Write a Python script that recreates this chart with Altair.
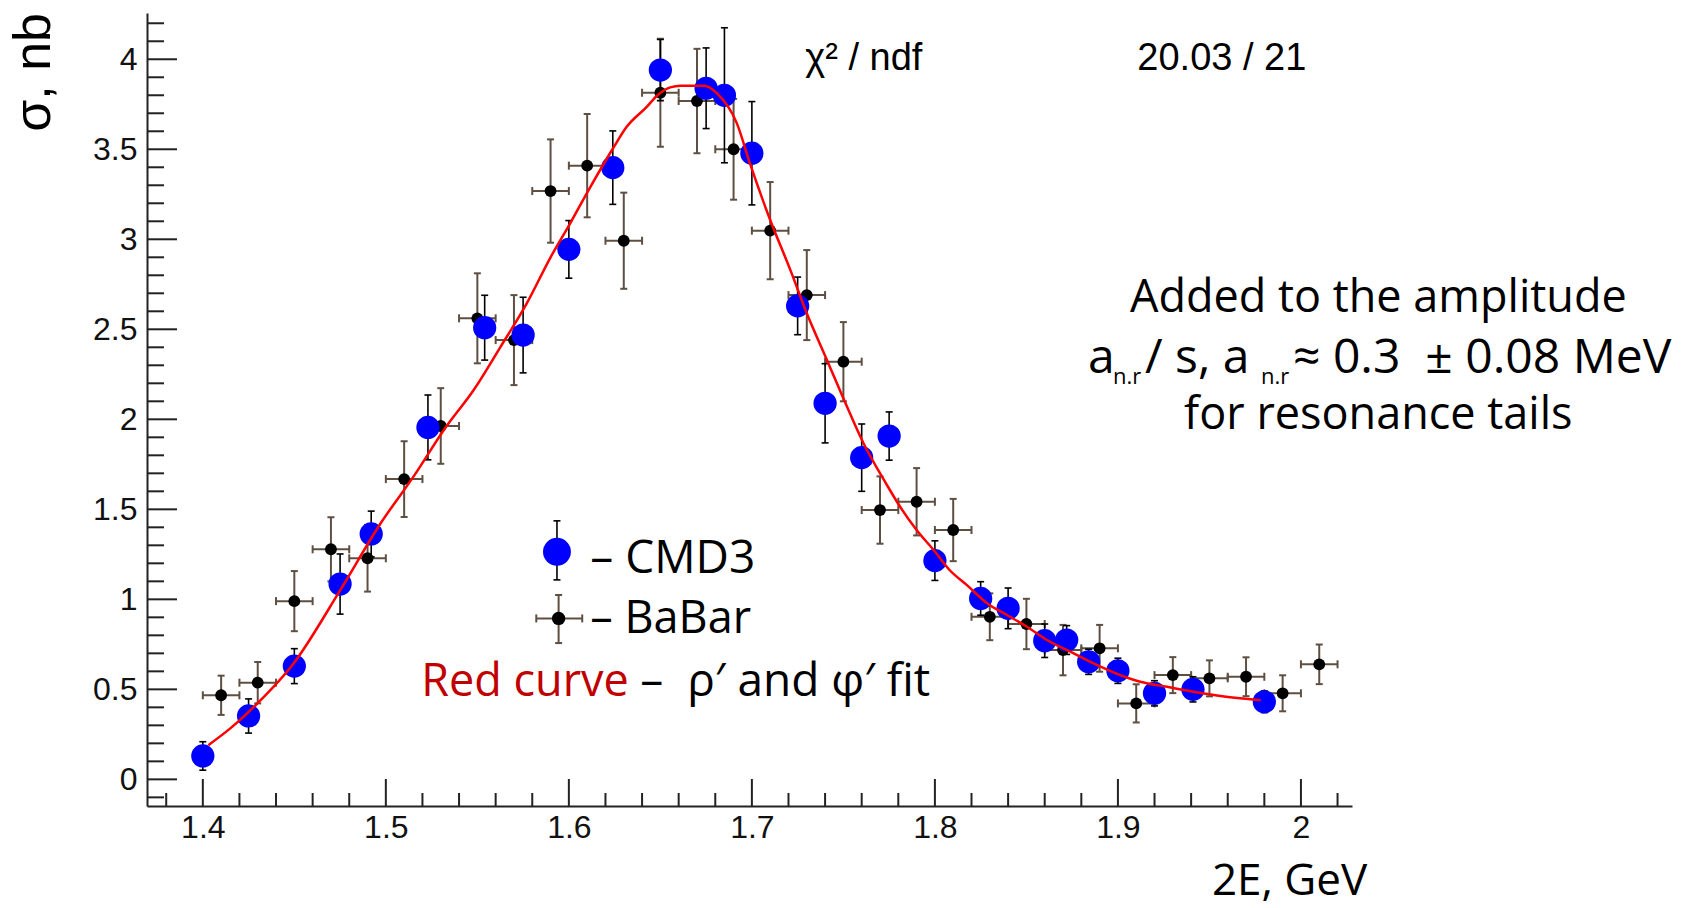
import altair as alt
import pandas as pd

# ---------------- data ----------------
# CMD3 (blue) points: energy (GeV), cross section (nb), error (nb)
cmd3_x = [1.400, 1.425, 1.450, 1.475, 1.492, 1.523, 1.554, 1.575, 1.600, 1.624,
          1.650, 1.675, 1.685, 1.700, 1.725, 1.740, 1.760, 1.775, 1.800, 1.825,
          1.840, 1.860, 1.872, 1.884, 1.900, 1.920, 1.941, 1.980]
cmd3_y = [0.13, 0.352, 0.629, 1.085, 1.363, 1.955, 2.509, 2.468, 2.944, 3.398,
          3.94, 3.839, 3.80, 3.478, 2.63, 2.089, 1.787, 1.907, 1.215, 1.005,
          0.95, 0.77, 0.774, 0.653, 0.603, 0.478, 0.50, 0.431]
cmd3_err = [0.079, 0.095, 0.097, 0.167, 0.127, 0.18, 0.18, 0.21, 0.16, 0.204,
            0.17, 0.224, 0.375, 0.287, 0.16, 0.22, 0.187, 0.134, 0.11, 0.093,
            0.113, 0.093, 0.08, 0.07, 0.07, 0.07, 0.07, 0.06]

# BaBar (black) points
babar_x = [1.41, 1.43, 1.45, 1.47, 1.49, 1.51, 1.53, 1.55, 1.57, 1.59,
           1.61, 1.63, 1.65, 1.67, 1.69, 1.71, 1.73, 1.75, 1.77, 1.79,
           1.81, 1.83, 1.85, 1.87, 1.89, 1.91, 1.93, 1.95, 1.97, 1.99, 2.01]
babar_y = [0.467, 0.537, 0.99, 1.278, 1.228, 1.668, 1.963, 2.561, 2.44, 3.268,
           3.409, 2.992, 3.814, 3.768, 3.50, 3.048, 2.69, 2.32, 1.496, 1.542,
           1.385, 0.903, 0.863, 0.718, 0.728, 0.422, 0.579, 0.561, 0.57, 0.478, 0.639]
babar_yerr = [0.109, 0.115, 0.167, 0.178, 0.185, 0.21, 0.21, 0.25, 0.25, 0.287,
              0.287, 0.267, 0.30, 0.29, 0.28, 0.27, 0.25, 0.22, 0.187, 0.187,
              0.173, 0.13, 0.14, 0.14, 0.13, 0.106, 0.10, 0.10, 0.108, 0.10, 0.11]
BABAR_XERR = 0.01

# red fit curve
fit_x = [1.403, 1.415, 1.4296, 1.4496, 1.475, 1.497, 1.515, 1.533, 1.548, 1.5625,
         1.577, 1.590, 1.6008, 1.6117, 1.6244, 1.6317, 1.6427, 1.648, 1.6554, 1.661,
         1.674, 1.681, 1.6918, 1.699, 1.710, 1.721, 1.730, 1.741, 1.752, 1.761,
         1.7738, 1.781, 1.790, 1.7993, 1.808, 1.8175, 1.8285, 1.8393, 1.8503, 1.8612,
         1.874, 1.8867, 1.9013, 1.9122, 1.9268, 1.9413, 1.956, 1.978]
fit_y = [0.19, 0.283, 0.42, 0.644, 1.05, 1.42, 1.68, 1.96, 2.163, 2.40,
         2.644, 2.90, 3.09, 3.29, 3.51, 3.626, 3.737, 3.796, 3.844, 3.853,
         3.853, 3.81, 3.644, 3.42, 3.107, 2.83, 2.589, 2.33, 2.07, 1.867,
         1.635, 1.514, 1.385, 1.274, 1.163, 1.079, 0.978, 0.913, 0.848, 0.774,
         0.709, 0.644, 0.579, 0.542, 0.514, 0.487, 0.463, 0.44]

# axis ticks / labels
x_major = [1.4, 1.5, 1.6, 1.7, 1.8, 1.9, 2.0]
x_minor = [1.38, 1.42, 1.44, 1.46, 1.48, 1.52, 1.54, 1.56, 1.58, 1.62, 1.64, 1.66, 1.68,
           1.72, 1.74, 1.76, 1.78, 1.82, 1.84, 1.86, 1.88, 1.92, 1.94, 1.96, 1.98, 2.02]
y_major = [0, 0.5, 1, 1.5, 2, 2.5, 3, 3.5, 4]
y_minor = [-0.1, 0.1, 0.2, 0.3, 0.4, 0.6, 0.7, 0.8, 0.9, 1.1, 1.2, 1.3, 1.4,
           1.6, 1.7, 1.8, 1.9, 2.1, 2.2, 2.3, 2.4, 2.6, 2.7, 2.8, 2.9,
           3.1, 3.2, 3.3, 3.4, 3.6, 3.7, 3.8, 3.9, 4.1, 4.2]
XDOM = [1.3695, 2.0279]
YDOM = [-0.148, 4.257]

# hand-drawn legend keys (in data units)
leg_cmd3 = {"x": [1.5935], "y": [1.264], "lo": [1.108], "hi": [1.436]}
leg_babar = {"x": [1.5944], "y": [0.894], "xlo": [1.5822], "xhi": [1.6073],
             "ylo": [0.757], "yhi": [1.024]}

# ---------------- build frames ----------------
cmd3 = pd.DataFrame({"x": cmd3_x, "y": cmd3_y, "e": cmd3_err})
cmd3["lo"] = cmd3["y"] - cmd3["e"]
cmd3["hi"] = cmd3["y"] + cmd3["e"]

babar = pd.DataFrame({"x": babar_x, "y": babar_y, "e": babar_yerr})
babar["lo"] = babar["y"] - babar["e"]
babar["hi"] = babar["y"] + babar["e"]
babar["xlo"] = babar["x"] - BABAR_XERR
babar["xhi"] = babar["x"] + BABAR_XERR

fit = pd.DataFrame({"x": fit_x, "y": fit_y})

W, H = 1205, 793
xs = alt.Scale(domain=XDOM, nice=False, zero=False)
ys = alt.Scale(domain=YDOM, nice=False, zero=False)
AX = "#222222"
EB = "#5e4f42"
BLUE = "#0000ff"

x_axis = alt.Axis(values=x_major, format=".1~f", title=None, ticks=False, grid=False,
                  domain=True, domainColor=AX, domainWidth=2,
                  labelFont="Liberation Sans", labelFontSize=32, labelColor="#111111",
                  labelPadding=6, labelFlush=False, labelOverlap=False)
y_axis = alt.Axis(values=y_major, format=".1~f", title=None, ticks=False, grid=False,
                  domain=True, domainColor=AX, domainWidth=2,
                  labelFont="Liberation Sans", labelFontSize=32, labelColor="#111111",
                  labelPadding=10, labelFlush=False, labelOverlap=False)


def X(f):
    return alt.X(f, type="quantitative", scale=xs, axis=x_axis)


def Y(f):
    return alt.Y(f, type="quantitative", scale=ys, axis=y_axis)


layers = []

# inward ticks
ymaj = pd.DataFrame({"v": y_major})
ymin = pd.DataFrame({"v": y_minor})
xmaj = pd.DataFrame({"v": x_major})
xmin = pd.DataFrame({"v": x_minor})
layers.append(alt.Chart(ymaj).mark_rule(color=AX, strokeWidth=2).encode(
    y=Y("v"), x=alt.value(0), x2=alt.value(30)))
layers.append(alt.Chart(ymin).mark_rule(color=AX, strokeWidth=2).encode(
    y=Y("v"), x=alt.value(0), x2=alt.value(17)))
layers.append(alt.Chart(xmaj).mark_rule(color=AX, strokeWidth=2).encode(
    x=X("v"), y=alt.value(H), y2=alt.value(H - 27)))
layers.append(alt.Chart(xmin).mark_rule(color=AX, strokeWidth=2).encode(
    x=X("v"), y=alt.value(H), y2=alt.value(H - 13)))

# BaBar error bars
layers.append(alt.Chart(babar).mark_rule(color=EB, strokeWidth=2).encode(
    x=X("x"), y=Y("lo"), y2=alt.Y2("hi")))
layers.append(alt.Chart(babar).mark_rule(color=EB, strokeWidth=2).encode(
    x=X("xlo"), x2=alt.X2("xhi"), y=Y("y")))
for f in ["lo", "hi"]:
    layers.append(alt.Chart(babar).mark_tick(orient="horizontal", size=7, thickness=2,
                                             color=EB, opacity=1).encode(x=X("x"), y=Y(f)))
for f in ["xlo", "xhi"]:
    layers.append(alt.Chart(babar).mark_tick(orient="vertical", size=8, thickness=2,
                                             color=EB, opacity=1).encode(x=X(f), y=Y("y")))
layers.append(alt.Chart(babar).mark_circle(size=140, color="black", opacity=1).encode(
    x=X("x"), y=Y("y")))

# CMD3 error bars + points
layers.append(alt.Chart(cmd3).mark_rule(color="black", strokeWidth=1.6).encode(
    x=X("x"), y=Y("lo"), y2=alt.Y2("hi")))
for f in ["lo", "hi"]:
    layers.append(alt.Chart(cmd3).mark_tick(orient="horizontal", size=7, thickness=1.6,
                                            color="black", opacity=1).encode(x=X("x"), y=Y(f)))
layers.append(alt.Chart(cmd3).mark_circle(size=540, color=BLUE, opacity=1).encode(
    x=X("x"), y=Y("y")))

# red fit curve
layers.append(alt.Chart(fit).mark_line(color="#ff0000", strokeWidth=2.5,
                                       interpolate="monotone").encode(
    x=X("x"), y=Y("y")))

# legend keys
lc = pd.DataFrame(leg_cmd3)
lb = pd.DataFrame(leg_babar)
layers.append(alt.Chart(lc).mark_rule(color="black", strokeWidth=1.6).encode(
    x=X("x"), y=Y("lo"), y2=alt.Y2("hi")))
for f in ["lo", "hi"]:
    layers.append(alt.Chart(lc).mark_tick(orient="horizontal", size=7, thickness=1.6,
                                          color="black", opacity=1).encode(x=X("x"), y=Y(f)))
layers.append(alt.Chart(lc).mark_circle(size=780, color=BLUE, opacity=1).encode(
    x=X("x"), y=Y("y")))
layers.append(alt.Chart(lb).mark_rule(color=EB, strokeWidth=2).encode(
    x=X("x"), y=Y("ylo"), y2=alt.Y2("yhi")))
layers.append(alt.Chart(lb).mark_rule(color=EB, strokeWidth=2).encode(
    x=X("xlo"), x2=alt.X2("xhi"), y=Y("y")))
for f in ["ylo", "yhi"]:
    layers.append(alt.Chart(lb).mark_tick(orient="horizontal", size=7, thickness=2,
                                          color=EB, opacity=1).encode(x=X("x"), y=Y(f)))
for f in ["xlo", "xhi"]:
    layers.append(alt.Chart(lb).mark_tick(orient="vertical", size=8, thickness=2,
                                          color=EB, opacity=1).encode(x=X(f), y=Y("y")))
layers.append(alt.Chart(lb).mark_circle(size=180, color="black", opacity=1).encode(
    x=X("x"), y=Y("y")))


# ---------------- texts ----------------
def txt(s, px, py, size, font="Open Sans", color="black", align="left", angle=0):
    kw = dict(font=font, fontSize=size, color=color, align=align, baseline="alphabetic")
    if angle:
        kw["angle"] = angle
    return alt.Chart(pd.DataFrame({"t": [s]})).mark_text(**kw).encode(
        x=alt.value(px), y=alt.value(py), text="t:N")


NB = "\u00a0"
layers += [
    txt("σ, nb", -96.7, 0, 52, font="Liberation Sans", align="right", angle=270),
    txt("2E, GeV", 1220.3, 882, 44, align="right"),
    txt("χ² / ndf", 658.3, 57, 38, font="Liberation Sans"),
    txt("20.03 / 21", 990.3, 57, 38, font="Liberation Sans"),
    txt("Added to the amplitude", 1231.3, 299, 45, align="center"),
    txt("a", 941, 360, 48),
    txt("n.r", 966, 371, 22),
    txt("/ s, a", 998, 360, 48),
    txt("n.r", 1114, 371, 22),
    txt("≈ 0.3 " + NB + "± 0.08 MeV", 1146, 360, 48),
    txt("for resonance tails", 1231.3, 416, 45, align="center"),
    txt("– CMD3", 443.3, 560, 46),
    txt("– BaBar", 443.3, 619.7, 45),
    txt("Red curve", 274.3, 683, 45, color="#c00000"),
    txt("– " + NB + "ρ′ and φ′ fit", 493.3, 683, 46),
]

chart = alt.layer(*layers).properties(
    width=W, height=H,
    background="white",
    autosize=alt.AutoSizeParams(type="none"),
    padding={"left": 147, "top": 13, "right": 347, "bottom": 102},
).configure_view(stroke=None)

chart.save("out.html", embed_options={"renderer": "svg", "actions": False})
